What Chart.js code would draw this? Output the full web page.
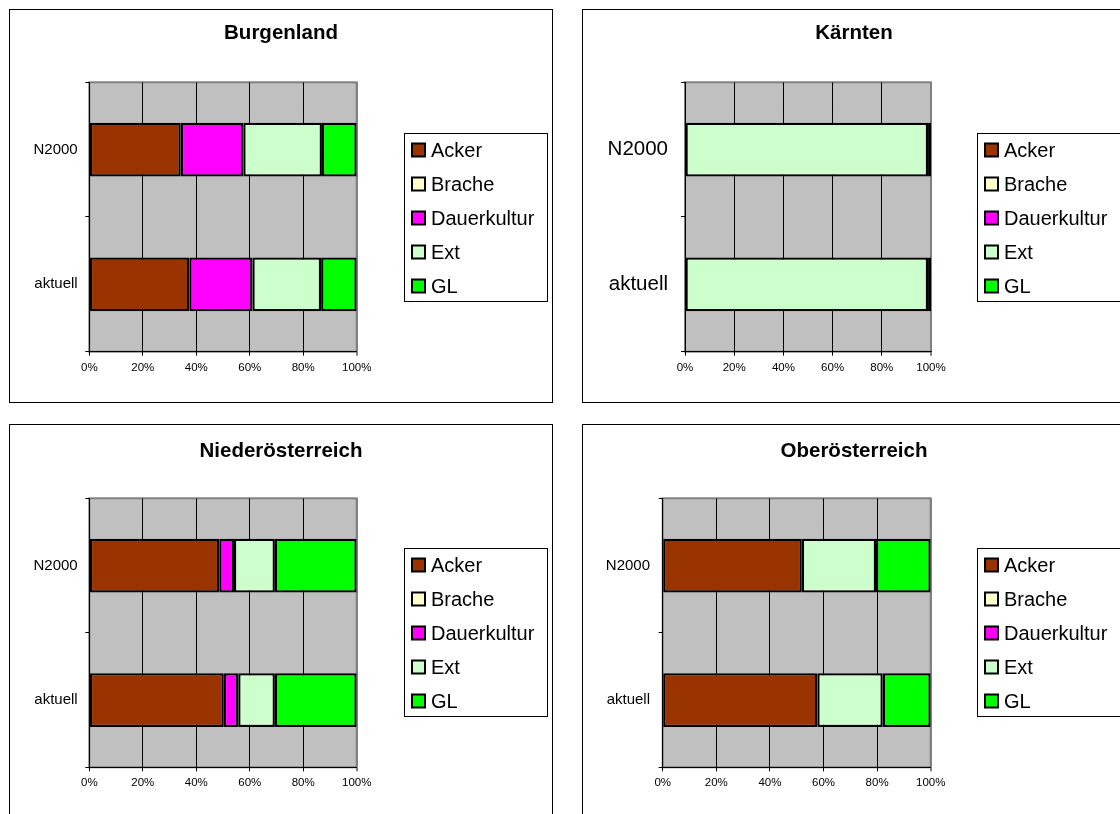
<!DOCTYPE html>
<html>
<head>
<meta charset="utf-8">
<title>Flächennutzung nach Bundesland</title>
<script src="https://cdn.jsdelivr.net/npm/chart.js@4/dist/chart.umd.min.js"></script>
<style>
  html, body { margin: 0; padding: 0; background: #fff; overflow: hidden; }
  body { width: 1120px; height: 814px; position: relative; }
  canvas { position: absolute; }
</style>
</head>
<body>
<canvas id="c-burgenland"></canvas>
<canvas id="c-kaernten"></canvas>
<canvas id="c-noe"></canvas>
<canvas id="c-ooe"></canvas>
<script>
// Categories and series
const categories = ['N2000', 'aktuell'];
const seriesNames = ['Acker', 'Brache', 'Dauerkultur', 'Ext', 'GL'];
const xTickValues = [0, 20, 40, 60, 80, 100];
const xTickLabels = ['0%', '20%', '40%', '60%', '80%', '100%'];

// Shares in percent, one entry per category [N2000, aktuell]
const burgenlandAcker = [34.2, 37.4];
const burgenlandBrache = [0, 0];
const burgenlandDauerkultur = [23.4, 23.6];
const burgenlandExt = [29.4, 25.7];
const burgenlandGL = [13.0, 13.3];

const kaerntenAcker = [0, 0];
const kaerntenBrache = [0, 0];
const kaerntenDauerkultur = [0, 0];
const kaerntenExt = [98.8, 98.8];
const kaerntenGL = [1.2, 1.2];

const noeAcker = [48.6, 50.3];
const noeBrache = [0, 0];
const noeDauerkultur = [5.5, 5.4];
const noeExt = [15.3, 13.7];
const noeGL = [30.6, 30.6];

const ooeAcker = [51.9, 57.7];
const ooeBrache = [0, 0];
const ooeDauerkultur = [0, 0];
const ooeExt = [27.7, 24.4];
const ooeGL = [20.4, 17.9];

// Fill colours of the series
const seriesColors = ['#993300', '#FFFFCC', '#FF00FF', '#CCFFCC', '#00FF00'];

const FONT = "'Liberation Sans', Arial, Helvetica, sans-serif";
const PANEL_W = 544, PANEL_H = 394;

// Panel placement and plot-area geometry (pixels, relative to each panel)
const panels = [
  { id: 'c-burgenland', title: 'Burgenland', x: 9, y: 9,
    series: [burgenlandAcker, burgenlandBrache, burgenlandDauerkultur, burgenlandExt, burgenlandGL],
    plotLeft: 80.3, plotRight: 347.7, plotTop: 73.3, plotBottom: 342.7, titleY: 24, catFont: 15, catPad: 7.6 },
  { id: 'c-kaernten', title: 'Kärnten', x: 582, y: 9,
    series: [kaerntenAcker, kaerntenBrache, kaerntenDauerkultur, kaerntenExt, kaerntenGL],
    plotLeft: 103, plotRight: 349, plotTop: 73.3, plotBottom: 342.7, titleY: 24, catFont: 20.5, catPad: 13 },
  { id: 'c-noe', title: 'Niederösterreich', x: 9, y: 424,
    series: [noeAcker, noeBrache, noeDauerkultur, noeExt, noeGL],
    plotLeft: 80.3, plotRight: 347.7, plotTop: 74.3, plotBottom: 343.3, titleY: 27, catFont: 15, catPad: 7.6 },
  { id: 'c-ooe', title: 'Oberösterreich', x: 582, y: 424,
    series: [ooeAcker, ooeBrache, ooeDauerkultur, ooeExt, ooeGL],
    plotLeft: 80.7, plotRight: 348.7, plotTop: 74.3, plotBottom: 343.3, titleY: 27, catFont: 15, catPad: 8.7 }
];

// Legend box geometry (relative to each panel)
const LEGEND = { left: 395, top: 124, width: 143, height: 168, firstRow: 141, rowStep: 34, markX: 402, markSize: 15, textX: 422, fontSize: 20 };
const TITLE_SIZE = 20.5;

// Grey plot area with its frame
const plotAreaPlugin = {
  id: 'plotArea',
  beforeDraw(chart) {
    const { ctx, chartArea: a } = chart;
    ctx.save();
    ctx.fillStyle = '#C0C0C0';
    ctx.fillRect(a.left, a.top, a.right - a.left, a.bottom - a.top);
    ctx.strokeStyle = '#808080';
    ctx.lineWidth = 2;
    ctx.strokeRect(a.left, a.top, a.right - a.left, a.bottom - a.top);
    ctx.restore();
  }
};

// Panel title centred across the whole panel, plus the panel frame
const panelPlugin = {
  id: 'panel',
  afterDraw(chart, args, opts) {
    const ctx = chart.ctx;
    ctx.save();
    ctx.fillStyle = '#000';
    ctx.font = 'bold ' + TITLE_SIZE + 'px ' + FONT;
    ctx.textAlign = 'center';
    ctx.textBaseline = 'middle';
    ctx.fillText(opts.text, chart.width / 2, opts.y);
    ctx.strokeStyle = '#000';
    ctx.lineWidth = 1;
    ctx.strokeRect(0.5, 0.5, chart.width - 1, chart.height - 1);
    ctx.restore();
  }
};

// Boxed legend to the right of the plot, built from the datasets
const boxLegendPlugin = {
  id: 'boxLegend',
  afterDraw(chart) {
    const ctx = chart.ctx;
    const L = LEGEND;
    ctx.save();
    ctx.fillStyle = '#fff';
    ctx.fillRect(L.left, L.top, L.width, L.height);
    ctx.strokeStyle = '#000';
    ctx.lineWidth = 1;
    ctx.strokeRect(L.left + 0.5, L.top + 0.5, L.width, L.height);
    ctx.font = L.fontSize + 'px ' + FONT;
    ctx.textBaseline = 'middle';
    ctx.textAlign = 'left';
    chart.data.datasets.forEach((ds, i) => {
      const cy = L.firstRow + i * L.rowStep;
      const s = L.markSize;
      ctx.fillStyle = '#000';
      ctx.fillRect(L.markX, cy - s / 2, s, s);
      ctx.fillStyle = ds.backgroundColor;
      ctx.fillRect(L.markX + 2, cy - s / 2 + 2, s - 4, s - 4);
      ctx.fillStyle = '#000';
      ctx.fillText(ds.label, L.textX, cy + 1);
    });
    ctx.restore();
  }
};

panels.forEach(p => {
  const canvas = document.getElementById(p.id);
  canvas.width = PANEL_W;
  canvas.height = PANEL_H;
  canvas.style.left = p.x + 'px';
  canvas.style.top = p.y + 'px';
  canvas.style.width = PANEL_W + 'px';
  canvas.style.height = PANEL_H + 'px';

  new Chart(canvas, {
    type: 'bar',
    data: {
      labels: categories,
      datasets: seriesNames.map((name, i) => ({
        label: name,
        data: p.series[i],
        backgroundColor: seriesColors[i],
        borderColor: '#000',
        borderWidth: 2.3,
        borderSkipped: false,
        categoryPercentage: 1.0,
        barPercentage: 0.4
      }))
    },
    options: {
      indexAxis: 'y',
      responsive: false,
      animation: false,
      devicePixelRatio: 1,
      layout: { padding: { left: 0, top: p.plotTop, right: PANEL_W - p.plotRight, bottom: 0 } },
      plugins: {
        legend: { display: false },
        tooltip: { enabled: false },
        title: { display: false },
        panel: { text: p.title, y: p.titleY }
      },
      scales: {
        x: {
          stacked: true,
          min: 0,
          max: 100,
          afterBuildTicks(scale) {
            scale.ticks = xTickValues.map(v => ({ value: v }));
          },
          afterFit(scale) { scale.height = PANEL_H - p.plotBottom; },
          ticks: {
            color: '#000',
            padding: 5,
            maxRotation: 0,
            autoSkip: false,
            font: { family: FONT, size: 11.5 },
            callback: (v) => xTickLabels[xTickValues.indexOf(v)]
          },
          grid: {
            drawOnChartArea: true,
            drawTicks: true,
            tickLength: 4,
            color: (c) => (c.tick && c.tick.value === 100 ? '#808080' : '#000'),
            lineWidth: (c) => (c.tick && c.tick.value === 100 ? 2 : 1)
          },
          border: { display: true, color: '#000', width: 1 }
        },
        y: {
          stacked: true,
          afterFit(scale) { scale.width = p.plotLeft; },
          ticks: {
            color: '#000',
            padding: p.catPad,
            font: { family: FONT, size: p.catFont }
          },
          grid: {
            offset: true,
            drawOnChartArea: false,
            drawTicks: true,
            tickLength: 4,
            color: '#000'
          },
          border: { display: true, color: '#000', width: 1 }
        }
      }
    },
    plugins: [plotAreaPlugin, boxLegendPlugin, panelPlugin]
  });
});
</script>
</body>
</html>
